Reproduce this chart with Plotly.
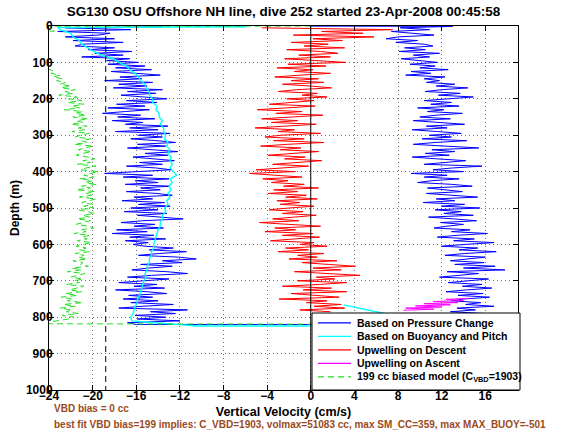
import plotly.graph_objects as go

# ---------------- text ----------------
title_text = "SG130 OSU Offshore NH line, dive 252 started 23-Apr-2008 00:45:58"
x_title = "Vertical Velocity (cm/s)"
y_title = "Depth (m)"
note_1 = "VBD bias = 0 cc"
note_2 = "best fit VBD bias=199 implies: C_VBD=1903, volmax=51083 cc, max SM_CC=359, max MAX_BUOY=-501"
legend_names = [
    "Based on Pressure Change",
    "Based on Buoyancy and Pitch",
    "Upwelling on Descent",
    "Upwelling on Ascent",
    "199 cc biased model (C<sub>VBD</sub>=1903)",
]

# ---------------- axes ----------------
x_ticks = [-24, -20, -16, -12, -8, -4, 0, 4, 8, 12, 16]
y_ticks = [0, 100, 200, 300, 400, 500, 600, 700, 800, 900, 1000]
x_range = [-24, 19]
y_range = [1000, 0]
model_ref_w = -18.8          # black dashed reference velocity
zero_w = 0.0

# ---------------- data ----------------
# vertical velocity from pressure change, descent, every 5 m from 5 m to 815 m
w_press_desc = [
    -22.5, -16.5, -23.2, -18.4,
    -19.5, -22.5, -18.0, -21.8, -17.2, -20.9,
    -21.6, -18.0, -20.4, -16.4, -19.8, -17.2, -21.0, -16.6, -18.7, -15.8,
    -18.6, -15.2, -17.9, -14.6, -18.3, -16.0, -13.8, -17.5, -15.5, -18.9,
    -14.5, -17.6, -15.0, -18.1, -13.6, -16.8, -14.2, -17.4, -15.3, -13.2,
    -16.9, -14.1, -17.8, -15.2, -18.6, -14.8, -17.0, -19.1, -15.6, -17.7,
    -14.3, -18.2, -15.4, -17.0, -13.1, -16.6, -14.0, -17.9, -12.9, -15.8,
    -13.6, -16.5, -14.1, -12.4, -15.9, -13.3, -16.8, -14.6, -12.2, -15.2,
    -13.1, -16.3, -14.0, -12.5, -15.7, -13.6, -16.9, -14.2, -12.8, -16.0,
    -18.9, -14.5, -17.2, -13.0, -16.1, -14.0, -17.0, -12.9, -15.6, -13.8,
    -16.9, -14.1, -12.7, -16.2, -14.5, -17.3, -13.4, -15.8, -12.9, -16.5,
    -14.0, -17.1, -13.2, -15.9, -13.8, -11.7, -15.4, -17.4, -14.3, -16.2,
    -13.5, -17.8, -15.0, -18.2, -14.4, -16.6, -13.3, -17.0, -14.9, -16.3,
    -15.2, -12.6, -14.8, -11.4, -13.9, -15.8, -12.1, -10.5, -13.6, -11.8,
    -15.6, -12.7, -14.9, -16.4, -13.2, -11.3, -14.6, -16.8, -13.0, -15.3,
    -17.6, -14.1, -16.2, -13.4, -17.9, -15.0, -13.2, -16.7, -14.5, -17.2,
    -14.0, -16.5, -12.6, -15.4, -17.6, -11.3, -14.7, -12.4, -16.1, -13.3,
    -15.9, -12.0, -16.8,
]
# vertical velocity from pressure change, ascent, every 5 m from 5 m to 815 m
w_press_asc = [
    8.2, 10.9, 7.4, 9.6, 11.3, 8.0, 6.9, 9.8, 7.8, 10.4,
    11.2, 8.6, 10.5, 8.1, 11.8, 9.4, 10.9, 8.3, 10.2, 11.6,
    9.1, 11.4, 10.0, 12.6, 9.2, 11.0, 8.7, 12.3, 10.4, 11.8,
    10.6, 13.2, 11.5, 14.4, 12.0, 10.5, 13.7, 11.7, 14.9, 12.3,
    10.4, 12.9, 11.0, 13.6, 9.8, 12.2, 10.7, 13.9, 11.5, 10.0,
    12.8, 9.4, 11.9, 14.1, 10.6, 12.5, 9.3, 11.6, 13.8, 10.9,
    12.9, 10.2, 14.3, 11.4, 9.4, 12.6, 15.4, 11.1, 13.2, 10.5,
    12.7, 9.3, 11.6, 14.2, 12.1, 10.4, 15.7, 13.0, 11.2, 14.0,
    9.2, 12.5, 10.4, 13.6, 11.1, 9.8, 12.9, 14.8, 10.7, 12.2,
    13.9, 10.6, 12.4, 15.3, 11.5, 13.2, 10.3, 14.1, 12.0, 15.5,
    11.4, 13.8, 12.2, 14.9, 10.8, 13.1, 15.2, 11.9, 14.0, 12.5,
    11.3, 14.6, 12.9, 16.2, 13.4, 11.6, 15.0, 13.1, 16.8, 14.2,
    12.0, 15.3, 13.6, 17.0, 14.1, 12.3, 16.0, 14.8, 12.8, 15.9,
    13.2, 16.9, 14.0, 17.8, 12.5, 15.4, 13.6, 11.8, 16.3, 14.4,
    12.6, 15.7, 13.9, 16.6, 14.3, 12.4, 15.8, 13.5, 16.4, 14.0,
    12.9, 15.6, 14.2, 16.8, 13.4, 15.1, 12.8, 16.0, 14.5, 13.6,
    15.5, 13.9, 14.7,
]
# surface and bottom turn-around samples of the pressure-based velocity
press_surface_depth = [2]
press_surface_w = [-13.5]
press_bottom_depth = [820, 820]
press_bottom_w = [-16.0, 13.5]
press_end_depth = [1, 0.3]
press_end_w = [13.0, 0.0]

# buoyancy & pitch model velocity on descent, every 10 m from 10 m to 810 m
w_model_desc = [
    -23.0, -22.0, -21.8, -21.2, -21.0, -20.5, -19.9, -19.2, -18.1, -17.6,
    -16.9, -16.6, -16.1, -15.8, -15.6, -15.2, -15.1, -14.8, -14.8, -14.5,
    -14.5, -14.1, -14.2, -13.9, -13.9, -13.6, -13.8, -13.5, -13.5, -13.3,
    -13.4, -13.1, -13.2, -12.9, -13.1, -12.8, -12.9, -12.7, -12.9, -12.6,
    -12.3, -12.9, -12.7, -13.0, -12.8, -13.1, -12.9, -13.2, -13.1, -13.4,
    -13.3, -13.6, -13.6, -13.8, -13.8, -14.0, -14.1, -14.2, -14.3, -14.4,
    -14.4, -14.6, -14.6, -14.8, -14.8, -15.0, -15.0, -15.2, -15.1, -15.3,
    -15.4, -15.5, -15.6, -15.7, -15.9, -15.9, -16.1, -16.2, -16.3, -16.5,
    -16.4,
]
model_surface_depth = [2, 4]
model_surface_w = [-6.0, -23.2]
model_bottom_depth = [824, 824, 766]
model_bottom_w = [-10.4, 12.2, 3.0]

# upwelling on descent, every 5 m from 5 m to 785 m
w_up_desc = [
    -4.5, 7.5, 1.0, 4.8, -1.6,
    5.8, 0.2, 2.9, -1.8, 1.6, -0.6, 3.1, -2.2, 0.9, 2.5, -1.1, 1.8, -2.4, 0.5, 3.2,
    -2.1, 1.4, -3.1, 0.2, -1.5, 1.8, -0.9, -3.3, 0.7, -1.8, 1.2, -2.6, 0.0, 1.9,
    -1.3, -3.0, 0.6, -0.8, 1.5, -2.2, 0.3, -1.5,
    -3.8, 0.4, -2.6, -4.9, -0.8, -3.2, 1.1, -2.0, -4.5, -1.2, -3.6, 0.5, -2.4,
    -5.1, -1.5, -3.0, 0.9, -2.7, -4.2,
    -0.6, -3.4, 1.2, -2.1, -4.6, -0.9, -2.8, 0.7, -1.9, -3.9, -0.5, -2.4, 1.0,
    -1.6, -3.5, -0.2,
    -2.8, -5.0, -1.4, -5.6, -3.3, -0.8, -4.4, -2.1,
    -3.6, -0.6, -2.5, 0.7, -3.4, -1.2, -3.9, -0.4, -2.3, 0.6, -3.1, -1.0, -2.8,
    0.3, -2.0, -3.8, -0.7, -2.6, 0.5, -1.7, -3.5,
    -1.1, -4.7, -2.0, 0.9, -3.3, -1.4, -4.2, 0.2,
    -2.6, 0.8, -1.5, -3.7, 0.3, -1.0, 1.5, -2.3, -0.2, -3.0, 1.2, -1.2, 0.6, -2.0,
    2.4, -0.8, 1.6, 4.1, 0.2, 2.8, -1.5, 1.1, 4.5, 0.5, 2.2, -1.2, 3.3,
    0.8, -2.6, 1.9, -0.7, 3.3, -1.8, 0.4, 2.6, -2.9,
    1.5, -0.4, 2.8, 0.3, 3.1, -1.0, 1.8,
]

# upwelling on ascent (only near the bottom)
up_asc_depth = [748, 751, 754, 757, 760, 763, 766, 769, 772, 775, 778, 781]
w_up_asc = [14.6, 12.4, 14.0, 11.2, 13.5, 10.4, 12.8, 9.6, 12.0, 8.7, 11.3, 8.5]

# 199 cc biased model, every 5 m from 120 m to 805 m
w_biased = [
    -23.9, -23.5, -23.8, -23.0, -23.6, -22.8, -23.3, -22.5, -23.0,
    -22.0, -22.9, -21.6, -22.5, -21.8, -23.1, -21.4, -22.2,
    -21.0, -22.3, -20.8, -21.9, -21.2, -22.6, -20.9, -21.6,
    -20.6, -21.8, -20.4, -21.5, -20.9, -22.0, -20.5, -21.3, -20.7, -21.9, -20.3, -21.1,
    -21.6, -20.2, -21.0, -20.5, -21.7, -19.9, -20.8, -21.3, -20.1, -20.9, -21.5, -20.4,
    -19.8, -20.9, -20.2, -21.4, -19.7, -20.6, -21.1, -19.5, -20.3, -20.8, -19.9, -21.2,
    -20.0, -20.7, -19.6, -21.0, -20.2, -21.5, -19.8, -20.6, -20.1, -21.2, -19.7,
    -20.4, -21.0, -20.0, -20.8, -19.9, -21.3, -20.5, -19.8, -20.9, -20.3, -21.4,
    -20.2, -20.9, -21.5, -20.4, -19.9, -21.1, -20.6, -21.7, -20.3, -21.0, -20.5, -21.4, -20.1, -20.9,
    -21.5, -20.6, -21.2, -20.3, -21.6, -20.8, -21.3, -20.5, -21.8, -20.9, -21.1, -20.4,
    -21.9, -21.0, -22.3, -20.7, -21.5, -22.0, -20.9, -21.7, -21.2, -22.4, -20.8, -21.6, -22.1, -21.0,
    -22.5, -21.4, -22.9, -21.8, -22.3, -20.9, -22.7, -21.6, -23.0, -21.9, -22.4, -21.3, -22.8, -21.7, -22.2,
]
biased_first_depth = 120
biased_surface_depth = [0.3, 0.6, 14, 17, 60, 110]
biased_surface_w = [0.0, -26.0, -23.5, -26.5, -27.0, -25.5]
biased_bottom_depth = [818, 820]
biased_bottom_w = [-25.0, 16.0]

step = 5

# ---------------- build traces ----------------
d_press_desc = [step * (i + 1) for i in range(len(w_press_desc))]
d_press_asc = [step * (i + 1) for i in range(len(w_press_asc))]
d_model_desc = [2 * step * (i + 1) for i in range(len(w_model_desc))]
d_up_desc = [step * (i + 1) for i in range(len(w_up_desc))]
d_biased = [biased_first_depth + step * i for i in range(len(w_biased))]

blue_x = press_surface_w + w_press_desc + press_bottom_w + w_press_asc[::-1] + press_end_w
blue_y = press_surface_depth + d_press_desc + press_bottom_depth + d_press_asc[::-1] + press_end_depth

cyan_x = model_surface_w + w_model_desc + model_bottom_w
cyan_y = model_surface_depth + d_model_desc + model_bottom_depth

green_x = biased_surface_w + w_biased + biased_bottom_w
green_y = biased_surface_depth + d_biased + biased_bottom_depth

FONT = "Liberation Sans, Arial, Helvetica, sans-serif"
BLUE, CYAN, RED, MAGENTA, GREEN = "#0000FF", "#00FFFF", "#FF0000", "#FF00FF", "#22DD22"
DASH = "6px,4px"

fig = go.Figure()
fig.add_trace(go.Scatter(x=blue_x, y=blue_y, mode="lines", name=legend_names[0],
                         showlegend=False, line=dict(color=BLUE, width=1)))
fig.add_trace(go.Scatter(x=cyan_x, y=cyan_y, mode="lines", name=legend_names[1],
                         showlegend=False, line=dict(color=CYAN, width=1.4)))
fig.add_trace(go.Scatter(x=w_up_desc, y=d_up_desc, mode="lines", name=legend_names[2],
                         showlegend=False, line=dict(color=RED, width=1)))
fig.add_trace(go.Scatter(x=w_up_asc, y=up_asc_depth, mode="lines", name=legend_names[3],
                         showlegend=False, line=dict(color=MAGENTA, width=1)))
fig.add_trace(go.Scatter(x=green_x, y=green_y, mode="lines", name=legend_names[4],
                         showlegend=False, line=dict(color=GREEN, width=1, dash=DASH)))
fig.add_trace(go.Scatter(x=[zero_w, zero_w], y=[y_range[1], y_range[0]], mode="lines",
                         showlegend=False, hoverinfo="skip",
                         line=dict(color="black", width=1)))
fig.add_trace(go.Scatter(x=[model_ref_w, model_ref_w], y=[y_range[1], y_range[0]], mode="lines",
                         showlegend=False, hoverinfo="skip",
                         line=dict(color="black", width=1, dash=DASH)))

axis_common = dict(
    ticks="inside", ticklen=5, tickcolor="black", tickwidth=1,
    showline=True, linecolor="black", linewidth=1, mirror="ticks",
    showgrid=True, gridcolor="rgba(0,0,0,0.55)", griddash="1px,3px", gridwidth=1,
    zeroline=False, automargin=False,
    tickfont=dict(family=FONT, size=12, color="black", weight="bold"),
)

fig.update_layout(
    width=570, height=440,
    margin=dict(l=49, r=52, t=26, b=50, autoexpand=False),
    paper_bgcolor="white", plot_bgcolor="white",
    font=dict(family=FONT, color="black"),
    title=dict(text=title_text, x=0.5, xref="paper", y=1 - 11 / 440, yref="container",
               xanchor="center", yanchor="middle",
               font=dict(family=FONT, size=13.5, color="black", weight="bold")),
    xaxis=dict(range=x_range, tickvals=x_ticks,
               ticktext=[str(v) if v >= 0 else "\u2212" + str(-v) for v in x_ticks],
               ticklabelstandoff=-5,
               title=dict(text=x_title, standoff=4,
                          font=dict(family=FONT, size=12.5, color="black", weight="bold")),
               **axis_common),
    yaxis=dict(range=y_range, tickvals=y_ticks, ticklabelstandoff=-7,
               title=dict(text=y_title, standoff=3,
                          font=dict(family=FONT, size=12, color="black", weight="bold")),
               **axis_common),
    showlegend=False,
    hovermode=False,
)

# ---------------- legend box (MATLAB style) ----------------
def px_x(px):
    return (px - 49) / 469.0

def px_y(py):
    return (390 - py) / 364.0

leg_box = dict(x0=px_x(312), x1=px_x(520), y0=px_y(390), y1=px_y(313))
leg_rows_py = [322.8, 336.4, 349.9, 363.4, 376.9]
leg_styles = [(BLUE, None), (CYAN, None), (RED, None), (MAGENTA, None), (GREEN, DASH)]

fig.add_shape(type="rect", xref="paper", yref="paper", layer="above",
              fillcolor="white", line=dict(color="black", width=1), **leg_box)
for (col, dash), py, name in zip(leg_styles, leg_rows_py, legend_names):
    fig.add_shape(type="line", xref="paper", yref="paper", layer="above",
                  x0=px_x(318), x1=px_x(351), y0=px_y(py), y1=px_y(py),
                  line=dict(color=col, width=1.3, dash=dash))
    fig.add_annotation(text=name, xref="paper", yref="paper", x=px_x(355), y=px_y(py),
                       xanchor="left", yanchor="middle", showarrow=False,
                       font=dict(family=FONT, size=10.5, color="black", weight="bold"))

fig.add_annotation(text=note_1, xref="paper", yref="paper", x=px_x(52), y=px_y(408.5),
                   xanchor="left", yanchor="middle", showarrow=False,
                   font=dict(family=FONT, size=10, color="#9A4A1C", weight="bold"))
fig.add_annotation(text=note_2, xref="paper", yref="paper", x=px_x(52), y=px_y(424.5),
                   xanchor="left", yanchor="middle", showarrow=False,
                   font=dict(family=FONT, size=10, color="#9A4A1C", weight="bold"))

fig.write_html("out.html", config={"displayModeBar": False},
               post_script="document.body.style.margin='0px';document.body.style.overflow='hidden';")
